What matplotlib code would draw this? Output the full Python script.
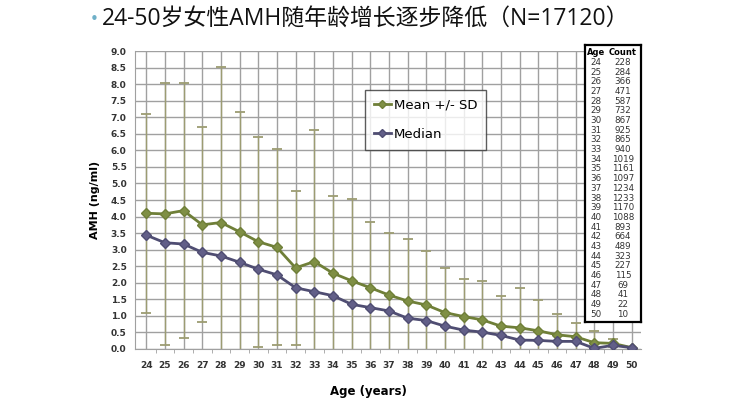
import numpy as np
import matplotlib.pyplot as plt

# data
ages = list(range(24, 51))
mean = [4.10, 4.08, 4.18, 3.75, 3.82, 3.54, 3.24, 3.07, 2.45, 2.64, 2.29, 2.06, 1.85,
        1.63, 1.45, 1.33, 1.10, 0.98, 0.88, 0.69, 0.64, 0.55, 0.43, 0.37, 0.19, 0.17, 0.04]
sd = [3.00, 3.96, 3.86, 2.94, 4.71, 3.61, 3.17, 2.96, 2.33, 3.96, 2.33, 2.47, 2.00,
      1.87, 1.86, 1.63, 1.34, 1.13, 1.16, 0.91, 1.19, 0.93, 0.63, 0.42, 0.36, 0.12, 0.00]
median = [3.44, 3.21, 3.17, 2.92, 2.81, 2.62, 2.41, 2.24, 1.85, 1.73, 1.61, 1.35, 1.25,
          1.15, 0.93, 0.86, 0.69, 0.57, 0.51, 0.41, 0.27, 0.26, 0.23, 0.23, 0.02, 0.11, 0.04]
counts = [228, 284, 366, 471, 587, 732, 867, 925, 865, 940, 1019, 1161, 1097, 1234,
          1233, 1170, 1088, 893, 664, 489, 323, 227, 115, 69, 41, 22, 10]

title = "24-50岁女性AMH随年龄增长逐步降低（N=17120）"

mean_col = '#6f7f38'
med_col = '#4f4d72'
err_col = '#9c9c72'

fig = plt.figure(figsize=(7.3, 4.0), dpi=100)
ax = fig.add_axes([135 / 730, 1 - 349 / 400, 506 / 730, 298 / 400])

ax.errorbar(ages, mean, yerr=sd, fmt='none', ecolor=err_col, elinewidth=1,
            capsize=3.5, capthick=1.3, zorder=2)
ax.plot(ages, mean, color=mean_col, lw=2, marker='D', ms=5.5,
        mfc='#7f8f45', mec=mean_col, label='Mean +/- SD', zorder=4)
ax.plot(ages, median, color=med_col, lw=2, marker='D', ms=5.5,
        mfc='#625f88', mec=med_col, label='Median', zorder=4)

ax.set_xlim(23.4, 50.5)
ax.set_ylim(0, 9)
ax.set_xticks(ages)
ax.set_yticks(np.arange(0, 9.01, 0.5))
ax.set_yticklabels([f'{v:.1f}' for v in np.arange(0, 9.01, 0.5)])
ax.grid(True, color='#a0a0a0', lw=1)
ax.set_axisbelow(True)
for s in ['top', 'right']:
    ax.spines[s].set_visible(False)
ax.spines['left'].set_color('#a0a0a0')
ax.spines['bottom'].set_color('#a0a0a0')
ax.tick_params(axis='x', length=0, pad=9, labelsize=6.5, labelcolor='#333333')
ax.tick_params(axis='y', length=0, pad=6, labelsize=6.5, labelcolor='#333333')
for lab in ax.get_xticklabels() + ax.get_yticklabels():
    lab.set_fontweight('bold')
ax.set_xticks(np.arange(24.5, 50, 1), minor=True)
ax.tick_params(axis='x', which='minor', length=3, color='#a0a0a0', direction='out')

ax.set_xlabel('Age (years)', fontsize=8.5, fontweight='bold', labelpad=8)
ax.set_ylabel('AMH (ng/ml)', fontsize=8, fontweight='bold', labelpad=8)
ax.xaxis.set_label_coords((368 - 135) / 506, -36 / 298)

leg = ax.legend(loc='upper left', bbox_to_anchor=(358 / 730, 1 - 83 / 400),
                bbox_transform=fig.transFigure, fontsize=9.5, frameon=True,
                fancybox=False, edgecolor='#333333', handlelength=1.3,
                handletextpad=0.2, labelspacing=1.2, borderpad=0.7, markerscale=0.7)
leg.get_frame().set_linewidth(1)

# count table
tx = fig.add_axes([585 / 730, 1 - 322 / 400, 56 / 730, 277 / 400])
tx.set_xticks([])
tx.set_yticks([])
for s in tx.spines.values():
    s.set_linewidth(1.6)
    s.set_color('black')
rows = len(ages) + 1
ys = np.linspace(0.972, 0.028, rows)
tx.text(0.2, ys[0], 'Age', ha='center', va='center', fontsize=6, fontweight='bold')
tx.text(0.68, ys[0], 'Count', ha='center', va='center', fontsize=6, fontweight='bold')
for i, (a, c) in enumerate(zip(ages, counts)):
    tx.text(0.2, ys[i + 1], str(a), ha='center', va='center', fontsize=6.3, color='#333333')
    tx.text(0.68, ys[i + 1], str(c), ha='center', va='center', fontsize=6.3, color='#333333')

fig.text(90 / 730, 1 - 20 / 400, '•', color='#6fb0c8', fontsize=11, va='center')
fig.text(102 / 730, 1 - 20 / 400, title, fontsize=16.5, va='center',
         family=['Open Sans', 'Noto Sans CJK SC'], color='#111111')

fig.savefig('out.png', dpi=100)
